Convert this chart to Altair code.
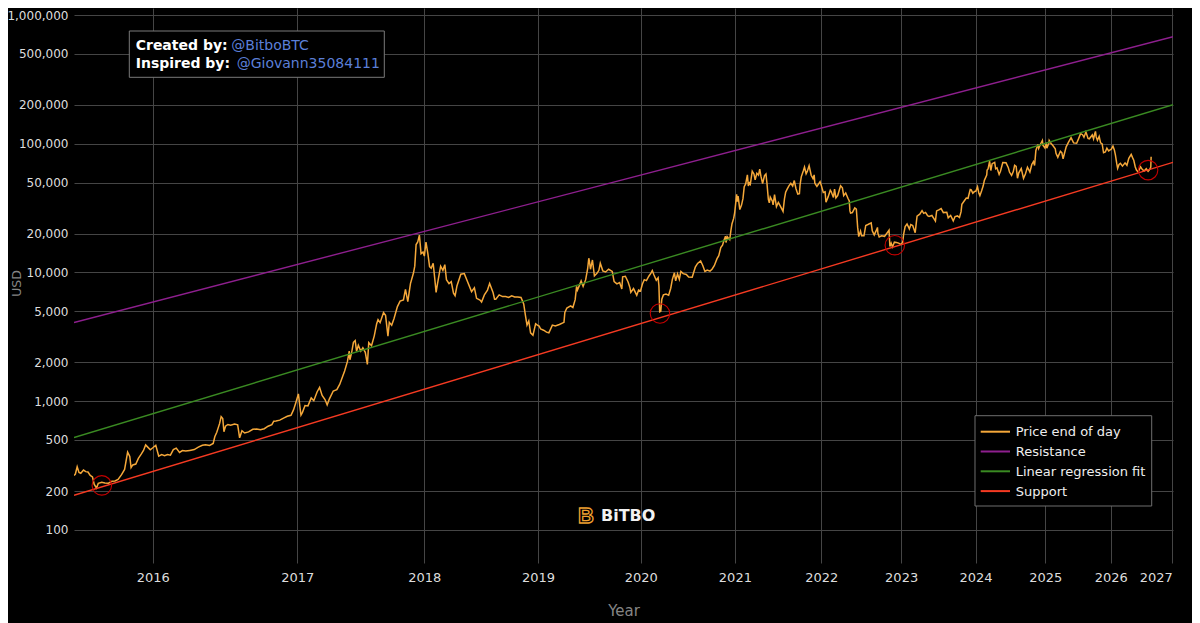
import altair as alt
import pandas as pd

# ---------------- data ----------------
GENESIS = "2009-01-03"

d15 = ["2015-07-05","2015-07-08","2015-07-12","2015-07-16","2015-07-20","2015-07-26","2015-07-31","2015-08-05","2015-08-10","2015-08-15","2015-08-19","2015-08-24","2015-08-28","2015-09-05","2015-09-12","2015-09-20","2015-09-28","2015-10-05","2015-10-12","2015-10-20","2015-10-27","2015-11-03","2015-11-05","2015-11-08","2015-11-11","2015-11-15","2015-11-22","2015-11-28","2015-12-05","2015-12-10","2015-12-15","2015-12-20","2015-12-26"]
v15 = [265, 272, 310, 280, 276, 292, 284, 282, 265, 258, 226, 212, 230, 235, 232, 231, 239, 240, 247, 269, 295, 402, 390, 372, 305, 320, 325, 360, 390, 415, 458, 440, 420]

d16 = ["2016-01-01","2016-01-08","2016-01-15","2016-01-22","2016-01-29","2016-02-05","2016-02-12","2016-02-19","2016-02-26","2016-03-05","2016-03-12","2016-03-20","2016-03-30","2016-04-10","2016-04-20","2016-04-30","2016-05-08","2016-05-18","2016-05-27","2016-05-31","2016-06-05","2016-06-12","2016-06-16","2016-06-20","2016-06-23","2016-06-27","2016-07-03","2016-07-10","2016-07-20","2016-07-28","2016-08-02","2016-08-08","2016-08-15","2016-08-25","2016-09-05","2016-09-15","2016-09-25","2016-10-05","2016-10-15","2016-10-25","2016-10-30","2016-11-05","2016-11-15","2016-11-25","2016-12-05","2016-12-15","2016-12-22","2016-12-28"]
v16 = [435, 455, 375, 385, 378, 386, 381, 421, 432, 400, 414, 410, 415, 421, 440, 455, 460, 453, 470, 530, 575, 670, 760, 735, 580, 640, 660, 650, 665, 655, 520, 590, 567, 578, 606, 608, 600, 612, 640, 657, 700, 703, 713, 740, 765, 778, 860, 975]

d17 = ["2017-01-04","2017-01-08","2017-01-11","2017-01-15","2017-01-22","2017-01-30","2017-02-08","2017-02-15","2017-02-24","2017-03-03","2017-03-10","2017-03-18","2017-03-24","2017-03-30","2017-04-10","2017-04-20","2017-04-28","2017-05-05","2017-05-12","2017-05-20","2017-05-25","2017-05-27","2017-06-01","2017-06-06","2017-06-11","2017-06-15","2017-06-20","2017-06-27","2017-07-03","2017-07-10","2017-07-16","2017-07-20","2017-07-28","2017-08-05","2017-08-12","2017-08-16","2017-08-22","2017-09-01","2017-09-07","2017-09-14","2017-09-18","2017-09-25","2017-10-02","2017-10-12","2017-10-20","2017-10-30","2017-11-05","2017-11-12","2017-11-20","2017-11-29","2017-12-03","2017-12-07","2017-12-12","2017-12-17","2017-12-22","2017-12-28"]
v17 = [1140, 910, 780, 820, 925, 920, 1060, 1010, 1180, 1280, 1110, 1030, 935, 1040, 1200, 1230, 1350, 1520, 1720, 2040, 2450, 2100, 2400, 2870, 2960, 2440, 2720, 2450, 2600, 2400, 1930, 2850, 2700, 3220, 4000, 4300, 4080, 4880, 4650, 3200, 4100, 3900, 4400, 5430, 6000, 6130, 7400, 5950, 8200, 9900, 11200, 16500, 17300, 19500, 14000, 14400]

d18 = ["2018-01-01","2018-01-06","2018-01-12","2018-01-17","2018-01-22","2018-01-28","2018-02-02","2018-02-06","2018-02-10","2018-02-20","2018-02-27","2018-03-05","2018-03-10","2018-03-18","2018-03-25","2018-04-01","2018-04-06","2018-04-12","2018-04-24","2018-05-05","2018-05-15","2018-05-28","2018-06-06","2018-06-13","2018-06-24","2018-06-29","2018-07-08","2018-07-18","2018-07-25","2018-08-05","2018-08-10","2018-08-14","2018-08-25","2018-09-05","2018-09-15","2018-09-25","2018-10-05","2018-10-15","2018-10-25","2018-11-05","2018-11-14","2018-11-20","2018-11-25","2018-12-01","2018-12-07","2018-12-15","2018-12-24","2018-12-30"]
v18 = [13400, 17200, 13900, 11100, 10800, 11800, 8900, 7000, 8100, 11200, 10400, 11500, 8800, 8200, 8500, 6900, 6600, 7900, 9700, 9800, 8500, 7100, 7600, 6300, 6100, 5900, 6700, 7300, 8200, 7000, 6200, 6200, 6700, 6500, 6500, 6400, 6600, 6450, 6450, 6400, 5700, 4600, 3900, 4200, 3400, 3250, 4000, 3900]

d19 = ["2019-01-05","2019-01-10","2019-01-20","2019-01-30","2019-02-07","2019-02-19","2019-03-01","2019-03-15","2019-03-31","2019-04-03","2019-04-10","2019-04-23","2019-05-01","2019-05-09","2019-05-14","2019-05-17","2019-05-25","2019-05-30","2019-06-06","2019-06-15","2019-06-22","2019-06-26","2019-06-28","2019-07-02","2019-07-09","2019-07-16","2019-07-25","2019-08-01","2019-08-06","2019-08-15","2019-08-25","2019-09-05","2019-09-18","2019-09-25","2019-10-05","2019-10-15","2019-10-23","2019-10-26","2019-11-05","2019-11-15","2019-11-22","2019-11-25","2019-12-05","2019-12-17","2019-12-24","2019-12-31"]
v19 = [3830, 3640, 3560, 3440, 3400, 3900, 3850, 3950, 4100, 4900, 5300, 5500, 5350, 6150, 7800, 7300, 8050, 8600, 7800, 8800, 10700, 12900, 12300, 10600, 12500, 9400, 9850, 10400, 11800, 10300, 10100, 10600, 10200, 8500, 8150, 8350, 7450, 9250, 9350, 8450, 7600, 7000, 7500, 6650, 7300, 7200]

d20 = ["2020-01-07","2020-01-14","2020-01-22","2020-01-31","2020-02-08","2020-02-13","2020-02-19","2020-02-28","2020-03-06","2020-03-09","2020-03-12","2020-03-16","2020-03-20","2020-03-26","2020-04-05","2020-04-15","2020-04-23","2020-04-29","2020-05-07","2020-05-12","2020-05-19","2020-05-26","2020-06-01","2020-06-10","2020-06-22","2020-07-01","2020-07-15","2020-07-27","2020-08-05","2020-08-17","2020-08-25","2020-09-03","2020-09-12","2020-09-23","2020-10-01","2020-10-10","2020-10-21","2020-10-28","2020-11-05","2020-11-12","2020-11-18","2020-11-24","2020-11-26","2020-12-01","2020-12-11","2020-12-16","2020-12-20","2020-12-27","2020-12-31"]
v20 = [8150, 8800, 8650, 9350, 9900, 10350, 9600, 8700, 9100, 7900, 4950, 5000, 6200, 6700, 6800, 6650, 7550, 8800, 9950, 8600, 9750, 8850, 10200, 9800, 9650, 9230, 9200, 11000, 11750, 12300, 11400, 10200, 10450, 10250, 10600, 11300, 12800, 13500, 15600, 16300, 17800, 19150, 17100, 19000, 18000, 21300, 23800, 26300, 29000]

d21 = ["2021-01-03","2021-01-08","2021-01-11","2021-01-14","2021-01-21","2021-01-28","2021-02-03","2021-02-08","2021-02-14","2021-02-21","2021-02-25","2021-03-01","2021-03-05","2021-03-13","2021-03-20","2021-03-25","2021-04-01","2021-04-08","2021-04-13","2021-04-18","2021-04-25","2021-05-03","2021-05-09","2021-05-13","2021-05-19","2021-05-23","2021-05-27","2021-06-05","2021-06-08","2021-06-14","2021-06-22","2021-06-30","2021-07-08","2021-07-20","2021-07-26","2021-07-31","2021-08-07","2021-08-14","2021-08-22","2021-08-30","2021-09-06","2021-09-13","2021-09-21","2021-09-28","2021-10-01","2021-10-06","2021-10-15","2021-10-20","2021-10-27","2021-11-01","2021-11-09","2021-11-18","2021-11-26","2021-12-01","2021-12-04","2021-12-13","2021-12-27"]
v21 = [32800, 40500, 35500, 39200, 30800, 33400, 37600, 46400, 48700, 57400, 47000, 49600, 48400, 61200, 58300, 52400, 59000, 57000, 63500, 56000, 49100, 56600, 58200, 49700, 37000, 34700, 38500, 35800, 33500, 40200, 32500, 35000, 32900, 29800, 37300, 42000, 44600, 47100, 49300, 47000, 51800, 44900, 40600, 41000, 48200, 55300, 61700, 66000, 58500, 61000, 67600, 56900, 53600, 57300, 49400, 46700, 50700]

d22 = ["2022-01-01","2022-01-10","2022-01-18","2022-01-22","2022-01-31","2022-02-10","2022-02-14","2022-02-24","2022-03-01","2022-03-07","2022-03-15","2022-03-28","2022-04-05","2022-04-11","2022-04-20","2022-04-30","2022-05-06","2022-05-09","2022-05-12","2022-05-20","2022-05-31","2022-06-07","2022-06-13","2022-06-18","2022-06-26","2022-07-01","2022-07-12","2022-07-20","2022-07-30","2022-08-14","2022-08-19","2022-08-28","2022-09-10","2022-09-12","2022-09-14","2022-09-20","2022-10-01","2022-10-15","2022-10-25","2022-11-05","2022-11-09","2022-11-15","2022-11-21","2022-11-30","2022-12-10","2022-12-20","2022-12-31"]
v22 = [47700, 41800, 42300, 35100, 38500, 43600, 42500, 38300, 44400, 38000, 39600, 47100, 45500, 39500, 41500, 37700, 36000, 30100, 28900, 29200, 31800, 31100, 22500, 19000, 21000, 19300, 19300, 23200, 23600, 24300, 21100, 19600, 21800, 22400, 20200, 18900, 19300, 19100, 20100, 21300, 15900, 16900, 15800, 17200, 17100, 16900, 16550]

d23 = ["2023-01-08","2023-01-13","2023-01-20","2023-01-29","2023-02-09","2023-02-16","2023-02-25","2023-03-09","2023-03-14","2023-03-18","2023-03-31","2023-04-11","2023-04-19","2023-04-28","2023-05-08","2023-05-15","2023-05-29","2023-06-10","2023-06-15","2023-06-21","2023-07-04","2023-07-13","2023-07-24","2023-08-10","2023-08-17","2023-08-29","2023-09-11","2023-09-20","2023-10-02","2023-10-12","2023-10-20","2023-10-24","2023-11-09","2023-11-15","2023-11-24","2023-12-05","2023-12-10","2023-12-18","2023-12-26"]
v23 = [17100, 19900, 22700, 23800, 21800, 23600, 23200, 20400, 24100, 27400, 28400, 30200, 28800, 29300, 27600, 27200, 27700, 25850, 25100, 30100, 30800, 31400, 29200, 29400, 26600, 27700, 25150, 27200, 27500, 26750, 29700, 33900, 36700, 37900, 37700, 44100, 43800, 41350, 42500]

d24 = ["2024-01-03","2024-01-11","2024-01-18","2024-01-23","2024-02-01","2024-02-09","2024-02-15","2024-02-27","2024-02-29","2024-03-05","2024-03-13","2024-03-19","2024-03-26","2024-04-08","2024-04-13","2024-04-20","2024-05-01","2024-05-08","2024-05-20","2024-06-06","2024-06-18","2024-06-24","2024-07-05","2024-07-14","2024-07-21","2024-07-29","2024-08-05","2024-08-12","2024-08-25","2024-09-06","2024-09-16","2024-09-27","2024-10-10","2024-10-20","2024-10-29","2024-11-04","2024-11-07","2024-11-11","2024-11-22","2024-11-26","2024-12-05","2024-12-16","2024-12-19","2024-12-30"]
v24 = [42900, 46300, 41200, 39500, 43100, 47100, 52000, 57000, 62500, 63800, 73100, 62000, 70000, 71600, 64000, 65000, 57800, 61200, 71400, 71100, 65100, 60300, 56700, 60800, 68100, 66800, 54000, 59400, 64100, 53900, 58200, 65800, 60300, 69000, 72700, 67800, 75900, 88700, 98900, 91900, 98700, 106100, 97500, 92700]

d25 = ["2025-01-06","2025-01-09","2025-01-20","2025-01-22","2025-02-01","2025-02-10","2025-02-24","2025-02-28","2025-03-10","2025-03-24","2025-04-01","2025-04-08","2025-04-15","2025-04-25","2025-05-08","2025-05-22","2025-06-05","2025-06-22","2025-07-03","2025-07-14","2025-07-25","2025-08-02","2025-08-13","2025-08-25","2025-09-01","2025-09-18","2025-09-25","2025-10-01","2025-10-06","2025-10-10","2025-10-17","2025-10-27","2025-11-04","2025-11-13","2025-11-21","2025-12-01","2025-12-10","2025-12-20"]
v25 = [102000, 92500, 101000, 106000, 100600, 97400, 91500, 84300, 78500, 87500, 85200, 76300, 83600, 94700, 103000, 111700, 101500, 100900, 109600, 119800, 117600, 112500, 123300, 110100, 109200, 117100, 109100, 118600, 124800, 113000, 106400, 114100, 101600, 99700, 85100, 86300, 92500, 88000]

d26 = ["2026-01-05","2026-01-14","2026-01-22","2026-01-28","2026-02-05","2026-02-10","2026-02-18","2026-02-26","2026-03-10","2026-03-25","2026-04-05","2026-04-16","2026-04-30","2026-05-08","2026-05-15","2026-05-24","2026-05-31","2026-06-10","2026-06-24","2026-07-05","2026-07-15","2026-07-28","2026-08-08","2026-08-18","2026-08-24","2026-08-26"]
v26 = [91000, 96000, 89500, 82000, 70000, 64300, 69000, 70400, 67000, 71000, 68000, 77000, 82700, 78000, 74600, 66000, 62400, 60500, 66200, 63000, 61500, 64000, 61000, 63200, 66000, 79200]

series_names = ["Price end of day", "Resistance", "Linear regression fit", "Support"]
series_colors = ["#f5a83a", "#8e1f8e", "#3a8a22", "#f53a22"]

fit_names = ["Resistance", "Linear regression fit", "Support"]
fit_start_date = "2015-07-05"
fit_end_date = "2027-01-05"
fit_start_values = [4085, 522, 186]
fit_end_values = [679000, 201000, 71700]

touch_dates = ["2015-09-05", "2020-03-13", "2022-12-02", "2026-08-08"]
touch_values = [222, 4800, 16300, 62400]

x_domain_dates = ["2015-07-05", "2027-01-05"]
y_domain = [55.4, 1133600]
year_ticks = list(range(2016, 2028))
y_ticks = [100, 200, 500, 1000, 2000, 5000, 10000, 20000, 50000,
           100000, 200000, 500000, 1000000]

# ---------------- helpers ----------------
g0 = pd.Timestamp(GENESIS)


def day_count(dates):
    return [int((pd.Timestamp(d) - g0).days) for d in dates]


price_dates = d15 + d16 + d17 + d18 + d19 + d20 + d21 + d22 + d23 + d24 + d25 + d26
price_values = v15 + v16 + v17 + v18 + v19 + v20 + v21 + v22 + v23 + v24 + v25 + v26
assert len(price_dates) == len(price_values)

df_price = pd.DataFrame({
    "days": day_count(price_dates),
    "price": price_values,
    "series": "Price end of day",
})

rows = []
for name, a, b in zip(fit_names, fit_start_values, fit_end_values):
    rows.append({"series": name, "days": day_count([fit_start_date])[0], "price": a})
    rows.append({"series": name, "days": day_count([fit_end_date])[0], "price": b})
df_fit = pd.DataFrame(rows)

df_touch = pd.DataFrame({"days": day_count(touch_dates), "price": touch_values})
df_legend = pd.DataFrame({"series": series_names, "i": list(range(len(series_names)))})
one = pd.DataFrame({"k": [0]})

FONT = "DejaVu Sans"

x_scale = alt.Scale(type="log", domain=day_count(x_domain_dates), nice=False, zero=False)
y_scale = alt.Scale(type="log", domain=y_domain, nice=False)
color_scale = alt.Scale(domain=series_names, range=series_colors)

x_axis = alt.Axis(
    values=day_count([f"{y}-01-01" for y in year_ticks]),
    labelExpr="'' + utcyear(utc(2009, 0, 3) + datum.value * 86400000)",
    title="Year", titleY=52, titleBaseline="alphabetic", titleFontSize=15,
    labelFontSize=13, labelPadding=8, labelOverlap=False,
)
y_axis = alt.Axis(
    values=y_ticks, format=",", title="USD",
    titleX=-57.5, titleY=275, titleBaseline="middle", titleAlign="center",
    titleFontSize=12.5, labelFontSize=12, labelPadding=6, labelOverlap=False,
)

price = alt.Chart(df_price).mark_line(strokeWidth=1.5, clip=True).encode(
    x=alt.X("days:Q", scale=x_scale, axis=x_axis),
    y=alt.Y("price:Q", scale=y_scale, axis=y_axis),
    color=alt.Color("series:N", scale=color_scale, legend=None),
)

fits = alt.Chart(df_fit).mark_line(strokeWidth=1.4, clip=True).encode(
    x="days:Q",
    y="price:Q",
    color=alt.Color("series:N", legend=None),
    detail="series:N",
)

touches = alt.Chart(df_touch).mark_point(
    shape="circle", filled=False, color="#c40000", strokeWidth=1.1, size=380, opacity=1
).encode(x="days:Q", y="price:Q")

# ---- annotation box ----
box = alt.Chart(one).mark_rect(fill="#000000", stroke="#7a7a7a", strokeWidth=1).encode(
    x=alt.value(55.3), x2=alt.value(310.3), y=alt.value(23), y2=alt.value(69.3)
)


def label(text, x, y, color, weight="normal", size=14):
    return alt.Chart(one).mark_text(
        text=text, align="left", baseline="alphabetic", font=FONT,
        fontSize=size, fontWeight=weight, color=color,
    ).encode(x=alt.value(x), y=alt.value(y))


t1 = label("Created by:", 61.7, 42.3, "#ffffff", "bold")
t2 = label("@BitboBTC", 157.3, 42.3, "#5b7fd8")
t3 = label("Inspired by:", 61.7, 60, "#ffffff", "bold")
t4 = label("@Giovann35084111", 162.7, 60, "#5b7fd8")

# ---- legend (drawn as a box with line samples and labels) ----
legend_box = alt.Chart(one).mark_rect(fill="#000000", stroke="#6e6e6e", strokeWidth=1).encode(
    x=alt.value(901), x2=alt.value(1077.7), y=alt.value(407.7), y2=alt.value(498)
)
legend_base = alt.Chart(df_legend).transform_calculate(ly="423.7 + datum.i * 19.8")
legend_lines = legend_base.mark_rule(strokeWidth=2).encode(
    x=alt.value(906.7), x2=alt.value(936),
    y=alt.Y("ly:Q", scale=None),
    color=alt.Color("series:N", legend=None),
)
legend_text = legend_base.mark_text(
    align="left", baseline="middle", font=FONT, fontSize=13, color="#eeeeee", dy=0.5
).encode(x=alt.value(941.7), y=alt.Y("ly:Q", scale=None), text="series:N")

# ---- logo ----
logo_icon = alt.Chart(one).mark_text(
    text="B", align="center", baseline="alphabetic", font="Liberation Sans", fontSize=22,
    fontWeight="bold", fill="#000000", stroke="#f0a030", strokeWidth=1.3,
).encode(x=alt.value(512), y=alt.value(515))
logo_text = label("BiTBO", 527, 513, "#f2f2f2", "bold", 16)

chart = alt.layer(
    price, fits, touches, box, t1, t2, t3, t4,
    legend_box, legend_lines, legend_text, logo_icon, logo_text
).properties(
    width=1099, height=555,
    autosize=alt.AutoSizeParams(type="none"),
    padding={"left": 66, "top": 0, "right": 19, "bottom": 60},
    background="#000000",
).configure(
    font=FONT
).configure_view(
    stroke="transparent"
).configure_axis(
    grid=True, gridColor="#454545", gridWidth=1, domain=False, ticks=False,
    labelColor="#dddddd", labelFont=FONT, titleColor="#858585", titleFont=FONT,
    titleFontWeight="normal",
)

chart.save("out.html", embed_options={"renderer": "svg", "actions": False})
